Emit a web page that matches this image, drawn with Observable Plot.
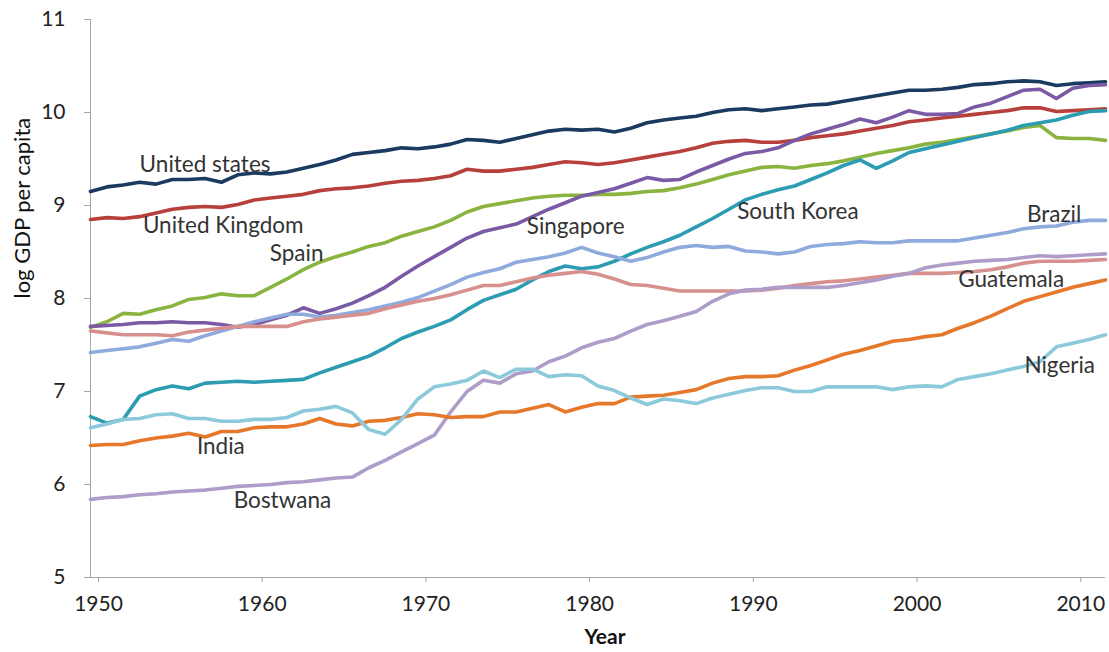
<!DOCTYPE html>
<html><head><meta charset="utf-8">
<script src="https://cdn.jsdelivr.net/npm/d3@7"></script>
<script src="https://cdn.jsdelivr.net/npm/@observablehq/plot@0.6"></script>
<style>body{margin:0;background:#fff} #chart svg{display:block}</style>
</head><body><div id="chart"></div>
<script>
const years = d3.range(1950, 2013);
const countries = ["United states","United Kingdom","Spain","Singapore","South Korea","Brazil","Guatemala","Bostwana","India","Nigeria"];
const colors = ["#1B3A60","#B8403C","#8AB43F","#7A5AA5","#2C9CB2","#8FAADC","#D7908E","#AE9CC9","#E5782A","#8CCADB"];

const unitedStates = [9.15,9.20,9.22,9.25,9.23,9.28,9.28,9.29,9.25,9.33,
 9.35,9.34,9.36,9.40,9.44,9.49,9.55,9.57,9.59,9.62,
 9.61,9.63,9.66,9.71,9.70,9.68,9.72,9.76,9.80,9.82,
 9.81,9.82,9.79,9.83,9.89,9.92,9.94,9.96,10.00,10.03,
 10.04,10.02,10.04,10.06,10.08,10.09,10.12,10.15,10.18,10.21,
 10.24,10.24,10.25,10.27,10.30,10.31,10.33,10.34,10.33,10.29,
 10.31,10.32,10.33];
const unitedKingdom = [8.85,8.87,8.86,8.88,8.92,8.96,8.98,8.99,8.98,9.01,
 9.06,9.08,9.10,9.12,9.16,9.18,9.19,9.21,9.24,9.26,
 9.27,9.29,9.32,9.39,9.37,9.37,9.39,9.41,9.44,9.47,
 9.46,9.44,9.46,9.49,9.52,9.55,9.58,9.62,9.67,9.69,
 9.70,9.68,9.68,9.70,9.73,9.75,9.77,9.80,9.83,9.86,
 9.90,9.92,9.94,9.96,9.98,10.00,10.02,10.05,10.05,10.01,
 10.02,10.03,10.04];
const spain = [7.69,7.75,7.84,7.83,7.88,7.92,7.99,8.01,8.05,8.03,
 8.03,8.12,8.21,8.31,8.39,8.45,8.50,8.56,8.60,8.67,
 8.72,8.77,8.84,8.93,8.99,9.02,9.05,9.08,9.10,9.11,
 9.11,9.12,9.12,9.13,9.15,9.16,9.19,9.23,9.28,9.33,
 9.37,9.41,9.42,9.40,9.43,9.45,9.48,9.52,9.56,9.59,
 9.62,9.66,9.68,9.71,9.74,9.77,9.80,9.84,9.86,9.73,
 9.72,9.72,9.70];
const singapore = [7.70,7.71,7.72,7.74,7.74,7.75,7.74,7.74,7.72,7.69,
 7.72,7.77,7.82,7.90,7.84,7.89,7.95,8.03,8.12,8.24,
 8.35,8.45,8.55,8.65,8.72,8.76,8.80,8.88,8.96,9.03,
 9.10,9.14,9.18,9.24,9.30,9.27,9.28,9.36,9.43,9.50,
 9.56,9.58,9.62,9.70,9.77,9.82,9.87,9.93,9.89,9.95,
 10.02,9.98,9.98,9.99,10.06,10.10,10.17,10.24,10.25,10.15,
 10.26,10.29,10.30];
const southKorea = [6.73,6.66,6.70,6.95,7.02,7.06,7.03,7.09,7.10,7.11,
 7.10,7.11,7.12,7.13,7.20,7.26,7.32,7.38,7.47,7.57,
 7.64,7.70,7.77,7.88,7.98,8.04,8.10,8.20,8.29,8.35,
 8.32,8.34,8.40,8.48,8.55,8.61,8.68,8.77,8.86,8.96,
 9.06,9.12,9.17,9.21,9.28,9.35,9.43,9.49,9.40,9.48,
 9.57,9.61,9.65,9.69,9.73,9.77,9.81,9.86,9.89,9.92,
 9.97,10.01,10.02];
const brazil = [7.42,7.44,7.46,7.48,7.52,7.56,7.54,7.60,7.65,7.70,
 7.75,7.79,7.83,7.83,7.80,7.82,7.85,7.88,7.92,7.96,
 8.01,8.08,8.15,8.23,8.28,8.32,8.39,8.42,8.45,8.49,
 8.55,8.49,8.45,8.40,8.44,8.50,8.55,8.57,8.55,8.56,
 8.51,8.50,8.48,8.50,8.56,8.58,8.59,8.61,8.60,8.60,
 8.62,8.62,8.62,8.62,8.65,8.68,8.71,8.75,8.77,8.78,
 8.82,8.84,8.84];
const guatemala = [7.65,7.63,7.61,7.61,7.61,7.60,7.64,7.66,7.68,7.70,
 7.70,7.70,7.70,7.75,7.78,7.80,7.82,7.84,7.89,7.93,
 7.97,8.00,8.04,8.09,8.14,8.14,8.18,8.22,8.25,8.27,
 8.29,8.26,8.21,8.15,8.14,8.11,8.08,8.08,8.08,8.08,
 8.08,8.09,8.11,8.14,8.16,8.18,8.19,8.21,8.23,8.25,
 8.27,8.27,8.27,8.28,8.29,8.31,8.34,8.38,8.40,8.40,
 8.40,8.41,8.42];
const botswana = [5.84,5.86,5.87,5.89,5.90,5.92,5.93,5.94,5.96,5.98,
 5.99,6.00,6.02,6.03,6.05,6.07,6.08,6.18,6.26,6.35,
 6.44,6.53,6.78,7.00,7.12,7.09,7.19,7.22,7.32,7.38,
 7.47,7.53,7.57,7.65,7.72,7.76,7.81,7.86,7.97,8.05,
 8.09,8.10,8.12,8.12,8.12,8.12,8.14,8.17,8.20,8.24,
 8.27,8.33,8.36,8.38,8.40,8.41,8.42,8.44,8.46,8.45,
 8.46,8.47,8.48];
const india = [6.42,6.43,6.43,6.47,6.50,6.52,6.55,6.51,6.57,6.57,
 6.61,6.62,6.62,6.65,6.71,6.65,6.63,6.68,6.69,6.72,
 6.76,6.75,6.72,6.73,6.73,6.78,6.78,6.82,6.86,6.78,
 6.83,6.87,6.87,6.94,6.95,6.96,6.99,7.02,7.09,7.14,
 7.16,7.16,7.17,7.23,7.28,7.34,7.40,7.44,7.49,7.54,
 7.56,7.59,7.61,7.68,7.74,7.81,7.89,7.97,8.02,8.07,
 8.12,8.16,8.20];
const nigeria = [6.61,6.65,6.70,6.71,6.75,6.76,6.71,6.71,6.68,6.68,
 6.70,6.70,6.72,6.79,6.81,6.84,6.77,6.59,6.54,6.70,
 6.92,7.05,7.08,7.12,7.22,7.15,7.24,7.24,7.16,7.18,
 7.17,7.06,7.01,6.93,6.86,6.92,6.90,6.87,6.93,6.97,
 7.01,7.04,7.04,7.00,7.00,7.05,7.05,7.05,7.05,7.02,
 7.05,7.06,7.05,7.13,7.16,7.19,7.23,7.27,7.32,7.48,
 7.52,7.56,7.61];
const seriesValues = [unitedStates, unitedKingdom, spain, singapore, southKorea, brazil, guatemala, botswana, india, nigeria];

const labelNames = ["United states","United Kingdom","Spain","Singapore","South Korea","Brazil","Guatemala","Nigeria","India","Bostwana"];
const labelYears = [1953.0,1953.2,1960.95,1976.65,1989.5,2007.2,2003.0,2007.05,1956.5,1958.75];
const labelValues = [9.44,8.78,8.48,8.77,8.93,8.90,8.20,7.28,6.41,5.83];

const xTicks = [1950,1960,1970,1980,1990,2000,2010];
const yTicks = [5,6,7,8,9,10,11];

const rows = countries.flatMap((c, i) => years.map((y, j) => ({country: c, year: y, value: seriesValues[i][j]})));
const labels = labelNames.map((n, i) => ({name: n, year: labelYears[i], value: labelValues[i]}));

const chart = Plot.plot({
  width: 1109, height: 652,
  marginLeft: 90, marginRight: 4, marginTop: 19, marginBottom: 75,
  style: {fontFamily: "Lato, 'Open Sans', sans-serif", background: "#fff", color: "#222"},
  x: {domain: [1950, 2012], label: null},
  y: {domain: [5, 11], label: null},
  color: {domain: countries, range: colors},
  marks: [
    Plot.ruleX([1950], {stroke: "#a6a6a6"}),
    Plot.ruleY([5], {stroke: "#a6a6a6"}),
    Plot.axisY({ticks: yTicks, tickFormat: d => String(d), tickSize: 6, tickPadding: 19, fontSize: 21, stroke: "#a6a6a6", fill: "#222", label: null}),
    Plot.axisX({ticks: xTicks, tickFormat: d => String(d), tickSize: 5, tickPadding: 14, fontSize: 21, dx: 8, stroke: "#a6a6a6", fill: "#222", label: null}),
    Plot.text(["log GDP per capita"], {text: d => d, frameAnchor: "left", dx: -68, rotate: -90, fontSize: 22, fill: "#111"}),
    Plot.text(["Year"], {text: d => d, frameAnchor: "bottom", dy: 66, dx: 7, fontSize: 21, fontWeight: "bold", fill: "#111"}),
    Plot.line(rows, {x: "year", y: "value", z: "country", stroke: "country", strokeWidth: 3.6, strokeLinejoin: "round", strokeLinecap: "round"}),
    Plot.text(labels, {x: "year", y: "value", text: "name", textAnchor: "start", fontSize: 22.5, fill: "#333"})
  ]
});
document.getElementById("chart").appendChild(chart);
</script>
</body></html>
